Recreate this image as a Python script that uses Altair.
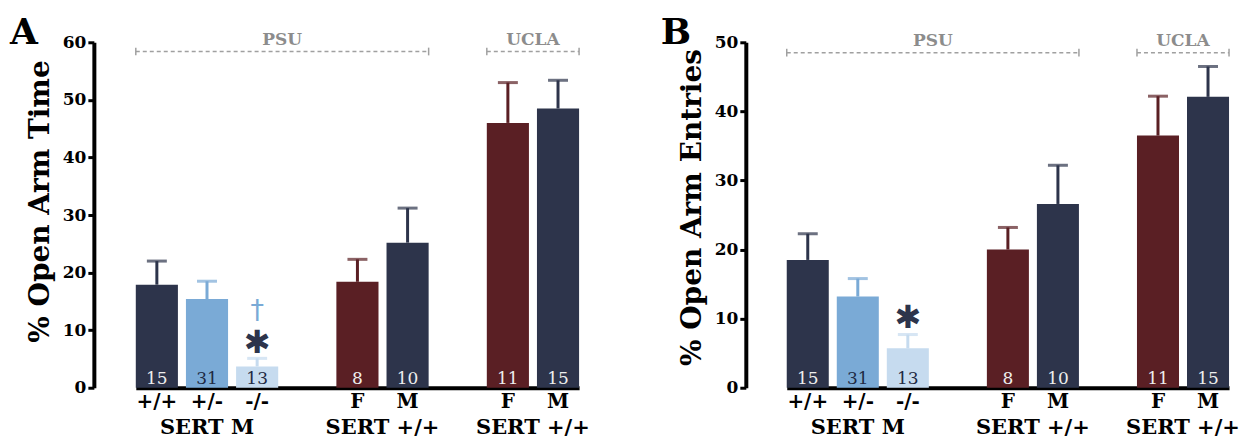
import altair as alt
import pandas as pd

FONT = "DejaVu Serif"

# ---- data ----
slots = ["+/+", "+/-", "-/-", "gap1", "F|PSU", "M|PSU", "gap2", "F|UCLA", "M|UCLA"]
bar_keys = ["+/+", "+/-", "-/-", "F|PSU", "M|PSU", "F|UCLA", "M|UCLA"]
n_labels = ["15", "31", "13", "8", "10", "11", "15"]
bar_colors = ["#2d344b", "#7aaad6", "#c6dbef", "#5a1f24", "#2d344b", "#5a1f24", "#2d344b"]
n_colors = ["#eeeeee", "#1f2a44", "#1f2a44", "#eeeeee", "#eeeeee", "#eeeeee", "#eeeeee"]

time_mean = [17.9, 15.4, 3.7, 18.4, 25.2, 46.0, 48.5]
time_sem = [4.1, 3.1, 1.4, 3.9, 6.0, 7.0, 4.9]
entries_mean = [18.5, 13.2, 5.7, 20.0, 26.6, 36.5, 42.1]
entries_sem = [3.8, 2.6, 2.0, 3.2, 5.6, 5.7, 4.4]

group_labels = ["SERT +/+", "SERT +/+"]
group_keys = ["F|PSU", "F|UCLA"]
first_group_label = "SERT M"

site_labels = ["PSU", "UCLA"]
site_start = ["+/+", "F|UCLA"]
site_end = ["M|PSU", "M|UCLA"]
site_label_key = ["-/-", "F|UCLA"]

# significance marks
sig_panel = ["A", "A", "B"]
sig_symbol = ["✱", "†", "✱"]
sig_y = [7.8, 13.3, 10.1]
sig_color = ["#2d344b", "#7aaad6", "#2d344b"]
sig_size = [32, 27, 32]
sig_weight = ["bold", "normal", "bold"]

LABEL_EXPR = "indexof(datum.value, 'gap') == 0 ? '' : split(datum.value, '|')[0]"
H = 346


def make_panel(letter, means, sems, ymax, ytitle, xrange, width, bracket_y, title_shift):
    df = pd.DataFrame({"key": bar_keys, "mean": means, "sem": sems,
                       "n": n_labels, "fill": bar_colors, "ncol": n_colors})
    df["top"] = df["mean"] + df["sem"]
    df["zero"] = 0
    xs = alt.Scale(domain=slots, range=xrange, paddingInner=0.16, paddingOuter=0)
    ys = alt.Scale(domain=[0, ymax], nice=False)

    xaxis = alt.Axis(title=None, labelExpr=LABEL_EXPR, ticks=False, domainWidth=4,
                     domainColor="black", labelFont=FONT, labelFontWeight="bold",
                     labelFontSize=20, labelColor="black", labelAngle=0, labelPadding=4,
                     grid=False)
    yaxis = alt.Axis(title=ytitle, values=list(range(0, ymax + 1, 10)), grid=False,
                     domainWidth=4, domainColor="black", tickWidth=3, tickColor="black",
                     tickSize=6, labelFont=FONT, labelFontWeight="bold", labelFontSize=17,
                     labelColor="black", labelPadding=2, titleFont=FONT,
                     titleFontWeight="bold", titleFontSize=28, titleColor="black",
                     titlePadding=8, titleY=H / 2 - title_shift)

    def X(field, bp=None):
        if bp is None:
            return alt.X(field, scale=xs, sort=slots, axis=xaxis)
        return alt.X(field, scale=xs, sort=slots, axis=xaxis, bandPosition=bp)

    def Y(field):
        return alt.Y(field, scale=ys, axis=yaxis)

    base = alt.Chart(df)
    bars = base.mark_bar().encode(
        x=X("key:N"), y=Y("mean:Q"), color=alt.Color("fill:N", scale=None),
    )
    err = base.mark_rule(strokeWidth=3).encode(
        x=X("key:N"), y=Y("mean:Q"), y2="top:Q", color=alt.Color("fill:N", scale=None),
    )
    cap = base.mark_tick(thickness=3, size=20).encode(
        x=X("key:N"), y=Y("top:Q"), color=alt.Color("fill:N", scale=None),
    )
    ntext = base.mark_text(font=FONT, fontSize=17, baseline="alphabetic", dy=-4).encode(
        x=X("key:N"), y=Y("zero:Q"), text="n:N", color=alt.Color("ncol:N", scale=None),
    )

    br = pd.DataFrame({"start": site_start, "end": site_end, "label": site_labels,
                       "lk": site_label_key, "by": [bracket_y] * 2})
    bch = alt.Chart(br)
    rule = bch.mark_rule(strokeDash=[4, 3], strokeWidth=1.5, color="#a0a0a0").encode(
        x=X("start:N", 0), x2=alt.X2("end:N", bandPosition=1), y=Y("by:Q"),
    )
    capL = bch.mark_point(shape="M0,-1L0,1", size=60, filled=False, strokeWidth=1.5,
                          color="#a0a0a0", opacity=1).encode(x=X("start:N", 0), y=Y("by:Q"))
    capR = bch.mark_point(shape="M0,-1L0,1", size=60, filled=False, strokeWidth=1.5,
                          color="#a0a0a0", opacity=1).encode(x=X("end:N", 1), y=Y("by:Q"))
    site_txt = bch.mark_text(font=FONT, fontWeight="bold", fontSize=17, color="#8c8c8c",
                             baseline="alphabetic", dy=-7, dx=4).encode(
        x=X("lk:N", 1), y=Y("by:Q"), text="label:N",
    )

    g = pd.DataFrame({"key": group_keys, "label": group_labels})
    grp = alt.Chart(g).mark_text(font=FONT, fontWeight="bold", fontSize=21, color="black",
                                 baseline="middle", dx=4).encode(
        x=X("key:N", 1), y=alt.value(H + 40), text="label:N",
    )
    g1 = pd.DataFrame({"key": ["+/-"], "label": [first_group_label]})
    grp1 = alt.Chart(g1).mark_text(font=FONT, fontWeight="bold", fontSize=21, color="black",
                                   baseline="middle").encode(
        x=X("key:N"), y=alt.value(H + 40), text="label:N",
    )

    s = pd.DataFrame({"panel": sig_panel, "key": ["-/-"] * 3, "sym": sig_symbol,
                      "sy": sig_y, "col": sig_color, "fs": sig_size, "fw": sig_weight})
    s = s[s["panel"] == letter]
    sig_layers = []
    for w in ["bold", "normal"]:
        sub = s[s["fw"] == w]
        if len(sub) == 0:
            continue
        sig_layers.append(
            alt.Chart(sub).mark_text(font="DejaVu Sans", fontWeight=w, baseline="middle").encode(
                x=X("key:N"), y=Y("sy:Q"), text="sym:N",
                color=alt.Color("col:N", scale=None), size=alt.Size("fs:Q", scale=None),
            )
        )

    lt = alt.Chart(pd.DataFrame({"t": [letter]})).mark_text(
        font=FONT, fontWeight="bold", fontSize=36, color="black", baseline="alphabetic",
        align="center").encode(x=alt.value(-70), y=alt.value(2), text="t:N")

    return alt.layer(bars, err, cap, ntext, rule, capL, capR, site_txt, grp, grp1,
                     *sig_layers, lt).properties(width=width, height=H)


A = make_panel("A", time_mean, time_sem, 60, "% Open Arm Time", [42, 486], 495, 58.4, 14)
B = make_panel("B", entries_mean, entries_sem, 50, "% Open Arm Entries", [41, 484], 505, 48.5, 8)

chart = alt.hconcat(A, B, spacing=70).properties(
    padding={"left": 2, "top": 7, "right": 0, "bottom": 0}
).configure_view(stroke=None)

chart.save("out.html", embed_options={"renderer": "svg", "actions": False})
